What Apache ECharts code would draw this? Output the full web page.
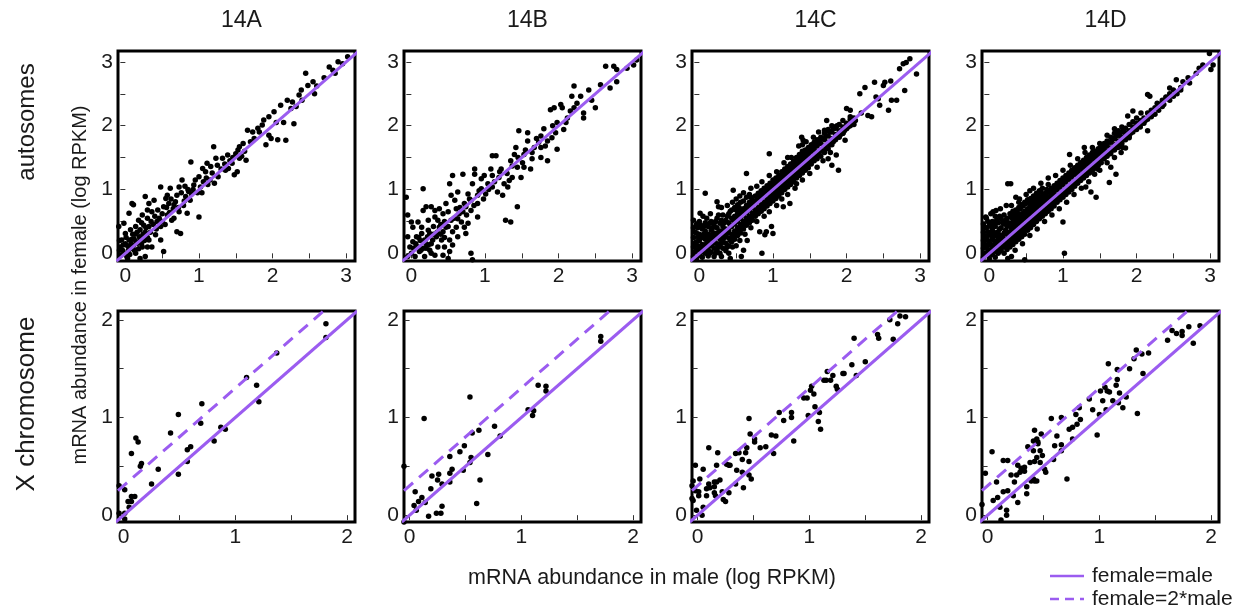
<!DOCTYPE html>
<html><head><meta charset="utf-8">
<script src="https://cdn.jsdelivr.net/npm/echarts@6/dist/echarts.min.js"></script>
<style>html,body{margin:0;padding:0;background:#fff}#c{width:1244px;height:615px}</style>
</head><body><div id="c"></div>
<script>
// ---------- data ----------
const panels = ['14A','14B','14C','14D'];
const rowLabels = ['autosomes','X chromosome'];
const xTitle = 'mRNA abundance in male (log RPKM)';
const yTitle = 'mRNA abundance in female (log RPKM)';
const legendNames = ['female=male','female=2*male'];
const autoLabels = [0,1,2,3];
const autoTicks = [0,0.5,1,1.5,2,2.5,3];
const xLabels = [0,1,2];
const xTicks = [0,0.5,1,1.5,2];
const autoRange = [-0.1,3.12,-0.12,3.17];
const xRange = [-0.05,2.07,-0.07,2.09];
const doubleOffset = 0.301; // log10(2)

const auto14A = [[3.02,3.08],[2.95,2.97],[2.89,3.0],[2.82,2.87],[2.77,2.92],[2.45,2.82],[2.55,2.69],[2.48,2.63],[2.39,2.56],[2.57,2.5],[2.36,2.48],[2.27,2.37],[2.2,2.4],[2.11,2.32],[2.32,2.3],[2.29,2.03],[2.18,1.77],[2.07,1.78],[2.02,2.22],[1.95,2.14],[1.88,2.09],[1.86,2.01],[1.8,1.96],[1.82,1.9],[1.73,1.9],[1.66,1.93],[1.95,1.85],[1.91,1.7],[1.98,1.8],[1.55,1.67],[1.6,1.72],[1.5,1.56],[1.55,1.49],[1.64,1.46],[1.45,1.41],[1.52,1.28],[1.48,1.23],[1.36,1.3],[1.39,1.54],[1.32,1.49],[1.2,1.67],[1.23,1.49],[1.16,1.36],[1.11,1.41],[1.09,1.28],[1.05,1.33],[1.0,1.2],[0.95,1.15],[1.02,1.04],[0.93,1.07],[1.0,0.57],[0.89,1.43],[0.86,0.97],[0.82,0.89],[0.77,1.15],[0.73,1.04],[0.7,0.91],[0.68,0.81],[0.61,1.02],[0.57,0.91],[0.55,0.86],[0.48,1.04],[0.52,0.73],[0.59,0.78],[0.73,0.65],[0.84,0.63],[0.75,0.31],[0.7,0.34],[0.66,0.55],[0.57,0.6],[0.48,0.42],[0.43,0.5],[0.36,0.65],[0.39,0.83],[0.32,0.78],[0.27,0.89],[0.3,0.68],[0.23,0.6],[0.18,0.52],[0.11,0.76],[0.09,0.78],[0.05,0.63],[-0.02,0.47],[-0.09,0.42],[0.41,0.29],[0.48,0.21],[0.52,0.03],[0.36,0.1],[0.32,0.21],[0.27,-0.05],[0.2,-0.08],[0.14,0],[0.09,0.08],[0.05,0.21],[0,0.31],[-0.05,0.21],[-0.07,0.1],[-0.02,0],[0.02,-0.05],[0.07,0.37],[0.14,0.42],[0.2,0.37],[0.25,0.44],[0.32,0.42],
[2.6,2.62],[2.7,2.75],[2.85,2.82],[2.4,2.4],[2.25,2.27],[2.15,2.05],[2.05,2.05],[1.75,1.8],[1.7,1.75],[1.62,1.6],[1.58,1.52],[1.42,1.45],[1.3,1.32],[1.26,1.2],[1.15,1.15],[1.12,1.08],[1.06,1.12],[0.98,0.95],[0.9,0.93],[0.85,1.0],[0.8,0.82],[0.76,0.95],[0.65,0.7],[0.62,0.85],[0.6,0.64],[0.5,0.62],[0.46,0.55],[0.44,0.68],[0.4,0.58],[0.35,0.5],[0.3,0.55],[0.28,0.4],[0.24,0.3],[0.22,0.48],[0.19,0.26],[0.16,0.33],[0.12,0.22],[0.1,0.3],[0.08,0.15],[0.04,0.05],[0.03,0.12],[0.0,0.15],[-0.04,0.05],[-0.06,-0.03],[0.06,-0.02],[0.11,0.12],[0.15,0.18],[0.18,0.07],[0.22,0.15],[0.26,0.2],[0.3,0.1],[0.34,0.33],[0.38,0.45],[0.42,0.38],[0.5,0.5],[0.54,0.45],[0.56,0.72],[0.63,0.52],[0.66,0.76],[0.72,0.72],[0.79,0.75],[0.81,1.05],[0.88,0.83],[0.92,1.0],[1.04,0.95],[1.1,1.18],[1.18,1.26],[1.21,1.1],[1.25,1.38],[1.35,1.4],[1.4,1.33],[1.46,1.5],[1.53,1.62],
[-0.08,0.05],[-0.08,0.2],[-0.03,0.13],[0.01,0.25],[0.03,-0.08],[0.06,0.1],[0.09,0.22],[0.12,0.05],[0.13,0.3],[0.17,0.16],[0.2,0.24],[0.23,0.1],[0.27,0.33],[0.3,0.25]];

const auto14B = [[3.06,3.03],[3.02,2.95],[2.93,2.9],[2.79,2.88],[2.64,2.93],[2.75,2.93],[2.79,2.69],[2.7,2.59],[2.57,2.64],[2.5,2.28],[2.41,2.56],[2.3,2.46],[2.21,2.62],[2.18,2.46],[2.34,2.2],[2.34,2.12],[2.21,2.28],[2.16,2.23],[2.12,2.12],[2.05,2.28],[2.03,2.33],[1.94,2.28],[1.89,2.25],[1.98,2.05],[2.07,1.94],[1.96,1.89],[1.98,1.63],[1.91,1.81],[1.85,1.76],[1.85,1.45],[1.76,1.84],[1.73,1.74],[1.76,1.66],[1.67,1.66],[1.64,1.58],[1.58,1.76],[1.58,1.89],[1.46,1.92],[1.53,1.55],[1.42,1.66],[1.4,1.55],[1.51,1.42],[1.44,1.35],[1.37,1.37],[1.44,0.73],[1.35,0.49],[1.28,0.52],[1.33,1.14],[1.26,1.09],[1.22,1.32],[1.19,1.19],[1.15,1.53],[1.1,1.53],[1.08,1.32],[1.1,1.22],[1.04,1.09],[0.99,1.22],[0.95,1.17],[0.92,0.98],[0.86,1.32],[0.86,1.24],[0.83,1.09],[0.77,0.93],[0.81,0.83],[0.74,0.73],[0.7,1.24],[0.56,1.22],[0.63,0.96],[0.59,0.83],[0.54,0.91],[0.52,1.09],[0.47,0.78],[0.5,0.65],[0.65,0.62],[0.68,0.49],[0.72,0.41],[0.61,0.41],[0.56,0.34],[0.52,0.21],[0.45,0.1],[0.5,-0.08],[0.81,0],[0.83,-0.1],[0.38,0.41],[0.36,0.52],[0.32,0.67],[0.27,0.73],[0.2,0.73],[0.16,1.01],[0.16,0.67],[0.09,0.49],[0,0.49],[-0.07,0.88],[-0.05,0.6],[0.02,0.41],[0.14,0.31],[0.23,0.36],[0.29,0.21],[0.36,0.1],[0.27,0],[0.18,-0.05],[0.11,0.03],[0.05,-0.05],[-0.02,0.1],[-0.05,0.26],[-0.05,-0.05],[0.02,0.18],[0.07,0.26],[0.18,0.21],[0.25,0.31],[0.34,0.26],[0.43,0.34],[0.41,0.21],[0.47,0.41],[0.54,0.52],[0.63,0.54],[0.7,0.65],[0.72,0.78],[0.79,0.85],[0.9,0.91],[0.95,1.01],[0.9,0.78],[0.81,0.67],[0.61,0.7],[0.43,0.62],[0.38,0.7],[0.32,0.57],[0.23,0.52],[0.14,0.41],[0.09,0.1],[0.16,0.08],[0.23,0.13],[0.32,-0.03],[0.43,-0.03],[0.52,0.03],[0.56,0.13],[0.63,0.26],[0.74,0.31],[0.77,0.47],[0.9,0.57],[1.01,0.93],[1.1,1.04],[1.17,0.96],[1.24,0.91],[1.31,1.04],[1.37,1.19],[1.49,1.19],[1.53,1.35],[1.62,1.32],[1.64,1.48],[1.76,1.5],[1.82,1.68],
[0.12,0.2],[0.2,0.15],[0.25,0.05],[0.3,0.3],[0.4,0.45],[0.45,0.5],[0.5,0.42],[0.58,0.55],[0.66,0.72],[0.75,0.6],[0.85,0.75],[0.98,0.85],[1.05,1.0],[1.13,1.12],[1.2,1.28],[1.3,1.25],[1.35,1.45],[1.45,1.5],[1.55,1.62],[1.7,1.8],[1.8,1.95],[1.92,2.0],[2.1,2.05],[2.25,2.35],[2.45,2.4],
[0.0,0.0],[0.03,0.08],[0.06,0.15],[0.1,0.25],[0.13,0.05],[0.2,0.08],[0.22,0.26],[0.27,0.15],[0.3,0.42],[0.35,0.33],[0.4,0.3],[0.45,0.25]];

const auto14C = [[2.86,3.05],[2.81,2.99],[2.77,2.97],[2.72,2.89],[2.95,2.81],[2.79,2.55],[2.68,2.4],[2.61,2.4],[2.57,2.24],[2.52,2.68],[2.5,2.63],[2.38,2.68],[2.43,2.42],[2.45,2.32],[2.34,2.14],[2.25,2.6],[2.18,2.5],[2.29,2.16],[2.05,2.24],[2.0,2.27],[2.05,2.14],[1.89,1.3],[1.8,1.38],[1.86,1.54],[1.75,1.48],[1.7,1.93],[1.73,2.08],[1.84,1.98],[1.98,1.77],[1.95,1.88],[1.39,1.82],[1.41,1.77],[0.95,1.56],[0.64,1.25],[0.46,0.99],[0.85,0],[0.89,0.29],[0.91,0.34],[0.98,0.42],[1.0,0.31],[0.82,0.34],[0.57,-0.05],[0.42,-0.08],[0.6,0.05],[0.08,0.94],[0.01,0.63],[0.24,0.81],[0.26,0.73],[-0.08,0.52],[1.23,0.78],[1.14,0.73],[1.32,1.09],[2.2,2.2],[2.12,2.08],[2.4,2.45],[2.6,2.7],
[-0.08,-0.05],[-0.08,0.1],[-0.08,0.25],[-0.08,0.4],[-0.04,-0.08],[-0.04,0.05],[-0.04,0.18],[-0.04,0.32],[-0.04,0.45],[0,-0.03],[0,0.08],[0,0.2],[0,0.3],[0,0.5],[0.04,-0.06],[0.04,0.02],[0.04,0.14],[0.04,0.26],[0.04,0.38],[0.08,0],[0.08,0.1],[0.08,0.22],[0.08,0.35],[0.08,0.48],[0.12,-0.04],[0.12,0.06],[0.12,0.17],[0.12,0.3],[0.12,0.42],[0.16,0.02],[0.16,0.12],[0.16,0.25],[0.16,0.36],[0.16,0.5],[0.2,-0.05],[0.2,0.08],[0.2,0.2],[0.2,0.32],[0.2,0.44],[0.24,0.05],[0.24,0.15],[0.24,0.28],[0.24,0.4],[0.24,0.55],[0.28,0],[0.28,0.12],[0.28,0.22],[0.28,0.35],[0.28,0.47],[0.32,0.08],[0.32,0.2],[0.32,0.3],[0.32,0.42],[0.32,0.6],[0.36,0.04],[0.36,0.16],[0.36,0.27],[0.36,0.38],[0.36,0.52],[0.4,0.12],[0.4,0.24],[0.4,0.36],[0.4,0.48],[0.4,0.62],[0.44,0.18],[0.44,0.3],[0.44,0.42],[0.44,0.55],[0.44,0.68],[0.48,0.22],[0.48,0.35],[0.48,0.46],[0.48,0.58],[0.48,0.72],[0.52,0.28],[0.52,0.4],[0.52,0.5],[0.52,0.62],[0.52,0.76],[0.56,0.32],[0.56,0.45],[0.56,0.55],[0.56,0.66],[0.56,0.8],[0.6,0.38],[0.6,0.5],[0.6,0.6],[0.6,0.7],[0.6,0.82],[0.64,0.44],[0.64,0.55],[0.64,0.64],[0.64,0.75],[0.64,0.88],[0.68,0.48],[0.68,0.58],[0.68,0.68],[0.68,0.8],[0.68,0.92],[0.72,0.52],[0.72,0.63],[0.72,0.72],[0.72,0.83],[0.76,0.58],[0.76,0.68],[0.76,0.78],[0.76,0.9],[0.8,0.62],[0.8,0.72],[0.8,0.82],[0.8,0.94],[0.84,0.66],[0.84,0.76],[0.84,0.86],[0.84,0.98],[0.88,0.7],[0.88,0.8],[0.88,0.9],[0.88,1.02],[0.92,0.74],[0.92,0.85],[0.92,0.95],[0.92,1.06],[0.96,0.78],[0.96,0.9],[0.96,1],[0.96,1.1],[1,0.82],[1,0.94],[1,1.04],[1,1.15],[1.04,0.86],[1.04,0.98],[1.04,1.08],[1.04,1.18],[1.08,0.9],[1.08,1.02],[1.08,1.12],[1.08,1.22],[1.12,0.95],[1.12,1.06],[1.12,1.16],[1.12,1.28],[1.16,1],[1.16,1.1],[1.16,1.2],[1.16,1.32],[1.2,1.04],[1.2,1.15],[1.2,1.25],[1.2,1.36],[1.24,1.08],[1.24,1.2],[1.24,1.3],[1.24,1.4],[1.28,1.12],[1.28,1.24],[1.28,1.34],[1.28,1.44],[1.32,1.18],[1.32,1.28],[1.32,1.38],[1.32,1.5],[1.36,1.22],[1.36,1.32],[1.36,1.42],[1.36,1.55],[1.4,1.26],[1.4,1.36],[1.4,1.46],[1.4,1.6],[1.4,1.7],[1.44,1.3],[1.44,1.4],[1.44,1.5],[1.44,1.62],[1.48,1.34],[1.48,1.45],[1.48,1.55],[1.48,1.66],[1.52,1.4],[1.52,1.5],[1.52,1.6],[1.52,1.7],[1.56,1.45],[1.56,1.54],[1.56,1.63],[1.56,1.74],[1.6,1.48],[1.6,1.58],[1.6,1.68],[1.6,1.78],[1.65,1.52],[1.65,1.62],[1.65,1.72],[1.65,1.82],[1.7,1.58],[1.7,1.68],[1.7,1.78],[1.7,1.88],[1.75,1.64],[1.75,1.74],[1.75,1.84],[1.75,1.94],[1.8,1.7],[1.8,1.8],[1.8,1.9],[1.8,2],[1.85,1.78],[1.85,1.86],[1.85,1.96],[1.9,1.82],[1.9,1.92],[1.9,2.02],[1.95,1.88],[1.95,1.98],[1.95,2.08],[2,1.95],[2,2.04],[2.05,2],[2.05,2.1],[2.1,2.02],[2.1,2.12],
[-0.06,0.02],[-0.06,0.16],[-0.06,0.33],[-0.02,0.12],[-0.02,0.26],[-0.02,0.4],[0.02,0.04],[0.02,0.24],[0.02,0.44],[0.06,0.07],[0.06,0.3],[0.06,0.42],[0.1,0.16],[0.1,0.28],[0.1,0.55],[0.14,0.0],[0.14,0.23],[0.14,0.47],[0.18,0.15],[0.18,0.3],[0.18,0.4],[0.22,0.0],[0.22,0.25],[0.22,0.5],[0.26,0.1],[0.26,0.33],[0.26,0.6],[0.3,0.16],[0.3,0.28],[0.3,0.52],[0.34,0.25],[0.34,0.36],[0.34,0.48],[0.38,0.1],[0.38,0.32],[0.38,0.58],[0.42,0.2],[0.42,0.44],[0.42,0.66],[0.46,0.26],[0.46,0.52],[0.5,0.32],[0.5,0.56],[0.5,0.68],[0.54,0.36],[0.54,0.58],[0.54,0.72],[0.58,0.42],[0.58,0.65],[0.62,0.48],[0.62,0.68],[0.66,0.52],[0.66,0.74],[0.7,0.56],[0.7,0.76],[0.7,0.88],[0.74,0.62],[0.74,0.8],[0.78,0.64],[0.78,0.84],[0.82,0.68],[0.82,0.9],[0.86,0.74],[0.86,0.95],[0.9,0.78],[0.9,0.98],[0.94,0.82],[0.94,1.02],[0.98,0.86],[0.98,1.08],[1.02,0.9],[1.02,1.12],[1.06,0.94],[1.06,1.16],[1.1,0.98],[1.1,1.2],[1.14,1.02],[1.14,1.24],[1.18,1.06],[1.18,1.28],[1.22,1.12],[1.22,1.34],[1.26,1.16],[1.26,1.38],[1.3,1.2],[1.3,1.42],[1.34,1.26],[1.34,1.48],[1.38,1.28],[1.38,1.52],[1.42,1.34],[1.42,1.56],[1.46,1.38],[1.46,1.6],[1.5,1.44],[1.5,1.64],[1.54,1.48],[1.54,1.68],[1.58,1.52],[1.58,1.72],[1.62,1.55],[1.62,1.76],[1.67,1.6],[1.67,1.8],[1.72,1.64],[1.72,1.84],[1.77,1.7],[1.77,1.9],[1.82,1.75],[1.82,1.95],[1.87,1.82],[1.87,2.0],[1.92,1.86],[1.97,1.92],[2.02,1.98],[2.07,2.06],
[0.3,0.72],[0.38,0.75],[0.45,0.8],[0.55,0.9],[0.6,0.95],[0.7,1.02],[0.78,1.05],[0.85,1.12],[0.95,1.22],[1.05,1.28],[1.15,1.42],[1.25,1.5],[1.35,1.68],[1.45,1.75],[1.55,1.82],[1.62,1.9],[1.2,1.5],[0.5,0.85],[0.15,0.62],[0.05,0.58],
[0.3,-0.05],[0.45,0.1],[0.55,0.2],[0.62,0.3],[0.7,0.4],[0.78,0.5],[0.88,0.58],[0.95,0.65],[1.05,0.75],[1.12,0.85],[1.2,0.92],[1.3,1.02],[1.4,1.15],[1.5,1.25],[1.6,1.35],[1.68,1.45],[1.78,1.58],[0.4,0.0],[0.5,0.12],[0.65,0.2]];

const auto14D = [[2.99,3.13],[3.04,2.95],[3.01,2.88],[2.9,2.95],[2.81,2.82],[2.72,2.67],[2.63,2.69],[2.54,2.72],[2.45,2.59],[2.37,2.33],[2.4,2.44],[2.15,2.49],[2.18,2.46],[2.15,1.92],[2.06,2.2],[1.95,2.23],[1.88,2.15],[1.9,1.81],[1.81,1.66],[1.79,1.58],[1.72,1.24],[1.63,1.11],[1.65,1.35],[1.45,0.88],[1.38,0.96],[1.31,1.04],[1.43,1.24],[1.47,1.32],[1.29,1.66],[1.09,1.55],[1.0,0.49],[1.02,0],[0.25,1.09],[0.29,1.09],[0.36,0.88],[0.41,0.85],[0.48,-0.1],[0.05,0.65],[0.09,0.67],[0.23,0.75],[-0.05,0.57],[2.85,2.9],[2.7,2.75],[2.28,2.35],[2.6,2.6],
[-0.08,-0.06],[-0.08,0.08],[-0.08,0.2],[-0.08,0.33],[-0.08,0.46],[-0.04,0],[-0.04,0.12],[-0.04,0.26],[-0.04,0.4],[-0.04,0.55],[0,-0.08],[0,0.05],[0,0.16],[0,0.3],[0,0.44],[0.04,-0.02],[0.04,0.1],[0.04,0.22],[0.04,0.36],[0.04,0.5],[0.08,-0.06],[0.08,0.04],[0.08,0.15],[0.08,0.28],[0.08,0.42],[0.08,0.58],[0.12,0],[0.12,0.12],[0.12,0.24],[0.12,0.34],[0.12,0.48],[0.16,0.04],[0.16,0.16],[0.16,0.28],[0.16,0.4],[0.16,0.54],[0.2,0],[0.2,0.1],[0.2,0.22],[0.2,0.32],[0.2,0.46],[0.2,0.6],[0.24,0.06],[0.24,0.18],[0.24,0.3],[0.24,0.42],[0.24,0.55],[0.28,0.1],[0.28,0.22],[0.28,0.34],[0.28,0.46],[0.28,0.62],[0.32,0.14],[0.32,0.26],[0.32,0.38],[0.32,0.5],[0.32,0.66],[0.36,0.18],[0.36,0.3],[0.36,0.42],[0.36,0.54],[0.36,0.68],[0.4,0.22],[0.4,0.34],[0.4,0.46],[0.4,0.58],[0.4,0.72],[0.44,0.26],[0.44,0.38],[0.44,0.5],[0.44,0.62],[0.44,0.76],[0.48,0.3],[0.48,0.42],[0.48,0.54],[0.48,0.66],[0.48,0.8],[0.52,0.36],[0.52,0.47],[0.52,0.58],[0.52,0.7],[0.52,0.84],[0.56,0.4],[0.56,0.5],[0.56,0.62],[0.56,0.74],[0.56,0.86],[0.6,0.45],[0.6,0.55],[0.6,0.66],[0.6,0.78],[0.6,0.9],[0.64,0.5],[0.64,0.6],[0.64,0.7],[0.64,0.82],[0.64,0.94],[0.68,0.54],[0.68,0.64],[0.68,0.75],[0.68,0.86],[0.68,0.98],[0.72,0.58],[0.72,0.68],[0.72,0.78],[0.72,0.9],[0.72,1.02],[0.76,0.62],[0.76,0.72],[0.76,0.82],[0.76,0.94],[0.8,0.66],[0.8,0.76],[0.8,0.86],[0.8,0.98],[0.8,1.08],[0.84,0.7],[0.84,0.8],[0.84,0.9],[0.84,1.02],[0.88,0.74],[0.88,0.84],[0.88,0.94],[0.88,1.06],[0.92,0.8],[0.92,0.9],[0.92,1],[0.92,1.1],[0.96,0.84],[0.96,0.94],[0.96,1.04],[0.96,1.14],[1,0.88],[1,0.98],[1,1.08],[1,1.18],[1.04,0.92],[1.04,1.02],[1.04,1.12],[1.04,1.22],[1.08,0.96],[1.08,1.06],[1.08,1.16],[1.08,1.26],[1.12,1],[1.12,1.1],[1.12,1.2],[1.12,1.3],[1.16,1.05],[1.16,1.14],[1.16,1.24],[1.16,1.34],[1.2,1.1],[1.2,1.2],[1.2,1.28],[1.2,1.38],[1.24,1.14],[1.24,1.24],[1.24,1.32],[1.24,1.42],[1.28,1.18],[1.28,1.28],[1.28,1.36],[1.28,1.46],[1.32,1.22],[1.32,1.32],[1.32,1.4],[1.32,1.5],[1.36,1.26],[1.36,1.36],[1.36,1.44],[1.36,1.54],[1.4,1.3],[1.4,1.4],[1.4,1.48],[1.4,1.58],[1.44,1.34],[1.44,1.44],[1.44,1.52],[1.44,1.6],[1.48,1.38],[1.48,1.48],[1.48,1.56],[1.48,1.64],[1.52,1.42],[1.52,1.52],[1.52,1.6],[1.52,1.68],[1.56,1.48],[1.56,1.56],[1.56,1.64],[1.56,1.72],[1.6,1.52],[1.6,1.6],[1.6,1.68],[1.6,1.76],[1.65,1.56],[1.65,1.65],[1.65,1.74],[1.65,1.82],[1.7,1.62],[1.7,1.7],[1.7,1.8],[1.7,1.88],[1.75,1.66],[1.75,1.76],[1.75,1.85],[1.75,1.92],[1.8,1.72],[1.8,1.82],[1.8,1.9],[1.8,1.98],[1.85,1.78],[1.85,1.88],[1.85,1.96],[1.9,1.84],[1.9,1.92],[1.9,2.02],[1.95,1.9],[1.95,1.98],[1.95,2.06],[2,1.94],[2,2.04],[2,2.12],[2.05,1.98],[2.05,2.08],[2.1,2.04],[2.1,2.12],[2.15,2.1],[2.15,2.2],[2.2,2.14],[2.2,2.24],[2.25,2.18],[2.25,2.28],[2.3,2.24],[2.3,2.34],[2.35,2.3],[2.35,2.4],[2.45,2.4],[2.45,2.5],[2.5,2.46],[2.5,2.56],[2.55,2.5],[2.6,2.56],
[-0.06,0.0],[-0.06,0.14],[-0.06,0.27],[-0.06,0.4],[-0.02,0.06],[-0.02,0.2],[-0.02,0.34],[-0.02,0.5],[0.02,0.0],[0.02,0.13],[0.02,0.28],[0.02,0.42],[0.06,0.08],[0.06,0.2],[0.06,0.33],[0.06,0.48],[0.1,0.02],[0.1,0.18],[0.1,0.3],[0.1,0.52],[0.14,0.06],[0.14,0.2],[0.14,0.38],[0.14,0.58],[0.18,0.1],[0.18,0.26],[0.18,0.48],[0.22,0.14],[0.22,0.36],[0.22,0.52],[0.26,0.12],[0.26,0.26],[0.26,0.48],[0.3,0.16],[0.3,0.4],[0.3,0.56],[0.34,0.2],[0.34,0.44],[0.34,0.6],[0.38,0.24],[0.38,0.48],[0.38,0.64],[0.42,0.28],[0.42,0.52],[0.42,0.7],[0.46,0.34],[0.46,0.58],[0.46,0.74],[0.5,0.38],[0.5,0.62],[0.5,0.78],[0.54,0.42],[0.54,0.66],[0.54,0.8],[0.58,0.48],[0.58,0.7],[0.58,0.84],[0.62,0.52],[0.62,0.74],[0.62,0.88],[0.66,0.56],[0.66,0.8],[0.66,0.92],[0.7,0.6],[0.7,0.84],[0.7,0.96],[0.74,0.64],[0.74,0.88],[0.78,0.68],[0.78,0.9],[0.78,1.0],[0.82,0.72],[0.82,0.96],[0.86,0.78],[0.86,1.0],[0.9,0.84],[0.9,1.04],[0.94,0.88],[0.94,1.08],[0.98,0.92],[0.98,1.12],[1.02,0.96],[1.02,1.16],[1.06,1.0],[1.06,1.2],[1.1,1.05],[1.1,1.24],[1.14,1.08],[1.14,1.28],[1.18,1.14],[1.18,1.32],[1.22,1.18],[1.22,1.36],[1.26,1.2],[1.26,1.4],[1.3,1.26],[1.3,1.44],[1.34,1.3],[1.34,1.48],[1.38,1.32],[1.38,1.52],[1.42,1.38],[1.42,1.55],[1.46,1.42],[1.46,1.6],[1.5,1.46],[1.5,1.64],[1.54,1.5],[1.54,1.66],[1.58,1.54],[1.58,1.7],[1.62,1.58],[1.62,1.74],[1.67,1.62],[1.67,1.78],[1.72,1.66],[1.72,1.84],[1.77,1.72],[1.77,1.88],[1.82,1.78],[1.82,1.94],[1.87,1.84],[1.92,1.88],[1.97,1.94],[2.02,2.0],[2.07,2.04],[2.12,2.08],[2.17,2.16],[2.22,2.2],[2.4,2.45],
[0.3,0.75],[0.4,0.8],[0.5,0.92],[0.6,1.02],[0.7,1.1],[0.8,1.18],[0.9,1.22],[1.0,1.3],[1.1,1.38],[1.2,1.48],[1.3,1.58],[1.4,1.66],[1.5,1.72],[1.6,1.85],[1.7,1.95],[0.15,0.7],[0.02,0.62],[0.55,0.98],
[0.35,0.05],[0.45,0.15],[0.55,0.28],[0.65,0.38],[0.75,0.5],[0.85,0.6],[0.95,0.7],[1.05,0.8],[1.15,0.92],[1.25,1.02],[1.35,1.12],[1.5,1.3],[1.6,1.42],[1.7,1.5],[1.85,1.65],[0.3,-0.05],[0.25,-0.08]];

const chrX14A = [[1.81,1.96],[1.81,1.82],[1.37,1.66],[1.1,1.41],[1.19,1.33],[1.21,1.16],[0.7,1.14],[0.49,1.03],[0.69,0.94],[0.42,0.84],[0.87,0.9],[0.91,0.88],[0.81,0.76],[0.6,0.7],[0.57,0.67],[0.57,0.55],[0.49,0.42],[0.31,0.47],[0.11,0.79],[0.13,0.75],[0.07,0.63],[0.16,0.53],[0.15,0.5],[0.25,0.32],[-0.04,0.3],[0.01,0.26],[0.07,0.19],[0.1,0.19],[0.07,0.14],[0.04,0.14],[0.05,0.08],[-0.04,0.02],[0.01,0.02],[0.01,-0.04]];
const chrX14B = [[1.71,1.83],[1.71,1.78],[1.15,1.33],[1.22,1.32],[1.22,1.27],[1.06,1.08],[1.11,1.07],[1.1,1.02],[0.54,1.21],[0.13,0.99],[0.76,0.91],[0.62,0.87],[0.56,0.84],[0.81,0.81],[0.49,0.71],[0.45,0.65],[0.7,0.62],[0.36,0.6],[0.55,0.59],[0.38,0.47],[0.36,0.43],[0.48,0.46],[0.54,0.54],[-0.05,0.5],[0.26,0.42],[0.2,0.4],[0.25,0.36],[0.63,0.36],[0.36,0.34],[0.29,0.32],[0.19,0.27],[0.05,0.24],[0.11,0.18],[0.14,0.13],[0.08,0.14],[0.04,0.1],[0.06,0.05],[0.29,0.09],[0.6,0.12],[0.24,0.02],[0.28,0.02],[0.17,-0.01],[-0.05,-0.07]];
const chrX14C = [[1.81,2.04],[1.86,2.03],[1.72,2.0],[1.79,1.96],[1.75,1.8],[1.4,1.81],[1.61,1.85],[1.62,1.81],[1.5,1.57],[1.38,1.54],[1.42,1.43],[1.3,1.45],[1.31,1.45],[1.24,1.32],[1.25,1.29],[1.16,1.47],[1.15,1.38],[1.19,1.38],[1.13,1.38],[1.21,1.43],[1.02,1.32],[1.04,1.24],[1.01,1.28],[0.98,1.2],[0.95,1.2],[0.99,1.02],[1.05,1.11],[1.09,1.05],[1.08,0.96],[1.1,0.88],[0.73,1.05],[0.77,0.97],[0.84,1.05],[0.84,1.0],[0.86,0.76],[0.66,0.82],[0.7,0.81],[0.68,0.63],[0.46,0.99],[0.47,0.83],[0.51,0.78],[0.51,0.75],[0.56,0.69],[0.61,0.7],[0.44,0.69],[0.43,0.64],[0.4,0.57],[0.46,0.55],[0.4,0.44],[0.46,0.41],[0.48,0.37],[0.35,0.46],[0.34,0.63],[0.37,0.64],[0.41,0.28],[0.34,0.32],[0.29,0.51],[0.26,0.52],[0.28,0.51],[0.23,0.16],[0.25,0.14],[0.28,0.23],[0.2,0.36],[0.17,0.34],[0.17,0.51],[0.18,0.64],[0.1,0.69],[0.15,0.23],[0.15,0.29],[0.22,0.24],[0.08,0.27],[0.1,0.32],[0.05,0.47],[0.02,0.37],[-0.02,0.51],[-0.04,0.35],[-0.05,0.3],[-0.02,0.25],[-0.05,0.17],[-0.04,0.15],[0.01,0.2],[0.08,0.2],[0.01,0.24],[0.05,0.08],[-0.01,0.05],[0.04,0.0],[0.15,0.34],[0.16,0.2],[0.11,0.28]];
const chrX14D = [[1.9,1.94],[1.8,1.93],[1.84,1.76],[1.74,1.88],[1.74,1.84],[1.69,1.86],[1.65,1.89],[1.61,1.79],[1.44,1.66],[1.38,1.65],[1.33,1.69],[1.31,1.6],[1.27,1.5],[1.39,1.45],[1.24,1.21],[1.16,1.39],[1.15,1.33],[1.16,1.49],[1.08,1.55],[1.18,1.25],[1.17,1.15],[1.21,1.1],[1.34,1.04],[1.05,1.31],[1.07,1.27],[1.09,1.26],[1.12,1.17],[1.06,1.08],[1.01,1.27],[1.03,1.17],[1.0,1.03],[0.94,1.08],[0.98,0.82],[0.91,1.19],[0.82,1.1],[0.79,1.03],[0.83,0.98],[0.8,0.93],[0.76,0.9],[0.73,0.88],[0.76,0.78],[0.66,1.0],[0.57,0.99],[0.62,0.81],[0.6,0.71],[0.66,0.72],[0.59,0.57],[0.71,0.37],[0.66,0.66],[0.48,0.83],[0.42,0.87],[0.44,0.78],[0.45,0.75],[0.41,0.76],[0.45,0.73],[0.47,0.66],[0.49,0.61],[0.47,0.54],[0.51,0.47],[0.52,0.44],[0.44,0.59],[0.42,0.55],[0.36,0.7],[0.41,0.66],[0.38,0.54],[0.33,0.49],[0.33,0.45],[0.3,0.48],[0.29,0.44],[0.27,0.51],[0.35,0.29],[0.35,0.22],[0.39,0.35],[0.42,0.35],[0.44,0.35],[0.41,0.37],[0.26,0.41],[0.24,0.34],[0.21,0.41],[0.18,0.56],[0.14,0.56],[0.04,0.65],[-0.02,0.43],[0.08,0.34],[0.14,0.24],[0.18,0.25],[0.23,0.2],[0.27,0.13],[0.09,0.18],[0.05,0.15],[0.11,0.08],[0.17,0.05],[0.17,0.0],[0.12,-0.05],[-0.06,0.2],[-0.05,0.11],[-0.06,0.03]];

const autoData = [auto14A, auto14B, auto14C, auto14D];
const chrXData = [chrX14A, chrX14B, chrX14C, chrX14D];

// ---------- layout ----------
const PURPLE = '#9b5cf0';
const FONT = '"Liberation Sans", Arial, sans-serif';
const colLeft = [118, 404, 692, 982];
const W = 237;
const rowTop = [51, 311];
const H = 210;

const grids = [], xAxes = [], yAxes = [], series = [];
function mkAxis(gi, min, max, labels, ticks, isX) {
  return {
    type: 'value', gridIndex: gi, min: min, max: max,
    axisLine: {show: false}, splitLine: {show: false},
    axisTick: {show: true, inside: false, length: 5, lineStyle: {color: '#333', width: 1}, customValues: ticks},
    axisLabel: {show: true, customValues: labels, fontSize: 21, color: '#1a1a1a', fontFamily: FONT, margin: 5}
  };
}
for (let r = 0; r < 2; r++) {
  for (let c = 0; c < 4; c++) {
    const gi = r * 4 + c;
    const rng = r === 0 ? autoRange : xRange;
    const labels = r === 0 ? autoLabels : xLabels;
    const ticks = r === 0 ? autoTicks : xTicks;
    grids.push({left: colLeft[c], top: rowTop[r], width: W, height: H + (r === 1 ? 1 : 0),
      show: true, borderColor: '#000', borderWidth: 3, backgroundColor: 'rgba(0,0,0,0)'});
    xAxes.push(mkAxis(gi, rng[0], rng[1], labels, ticks, true));
    yAxes.push(mkAxis(gi, rng[2], rng[3], labels, ticks, false));
    series.push({type: 'scatter', xAxisIndex: gi, yAxisIndex: gi, symbolSize: 5.5,
      itemStyle: {color: '#000', opacity: 1}, data: r === 0 ? autoData[c] : chrXData[c], z: 2, silent: true});
    const lo = Math.min(rng[0], rng[2]), hi = Math.max(rng[1], rng[3]);
    series.push({type: 'line', xAxisIndex: gi, yAxisIndex: gi, showSymbol: false, symbol: 'none', clip: true,
      lineStyle: {color: PURPLE, width: 3}, data: [[lo, lo], [hi, hi]], z: 3, silent: true});
    if (r === 1) {
      series.push({type: 'line', xAxisIndex: gi, yAxisIndex: gi, showSymbol: false, symbol: 'none', clip: true,
        lineStyle: {color: PURPLE, width: 3, type: [12, 8]},
        data: [[rng[0], rng[0] + doubleOffset], [rng[1], rng[1] + doubleOffset]], z: 3, silent: true});
    }
  }
}

const titles = panels.map((p, i) => ({text: p, left: colLeft[i] + W / 2, top: 4, textAlign: 'center',
  textStyle: {fontSize: 23, fontWeight: 'normal', color: '#1a1a1a', fontFamily: FONT}}));

const graphics = [
  {type: 'text', x: 27, y: 122, rotation: Math.PI / 2, style: {text: rowLabels[0], font: '24px ' + FONT, fill: '#1a1a1a', textAlign: 'center', textVerticalAlign: 'middle'}},
  {type: 'text', x: 27, y: 404, rotation: Math.PI / 2, style: {text: rowLabels[1], font: '26px ' + FONT, fill: '#1a1a1a', textAlign: 'center', textVerticalAlign: 'middle'}},
  {type: 'text', x: 80, y: 285, rotation: Math.PI / 2, style: {text: yTitle, font: '20px ' + FONT, fill: '#1a1a1a', textAlign: 'center', textVerticalAlign: 'middle'}},
  {type: 'text', x: 652, y: 578, style: {text: xTitle, font: '21.5px ' + FONT, fill: '#1a1a1a', textAlign: 'center', textVerticalAlign: 'middle'}},
  {type: 'line', shape: {x1: 1050, y1: 576, x2: 1084, y2: 576}, style: {stroke: PURPLE, lineWidth: 2.5}},
  {type: 'line', shape: {x1: 1050, y1: 599, x2: 1084, y2: 599}, style: {stroke: PURPLE, lineWidth: 2.5, lineDash: [9, 6]}},
  {type: 'text', x: 1092, y: 576, style: {text: legendNames[0], font: '21px ' + FONT, fill: '#1a1a1a', textAlign: 'left', textVerticalAlign: 'middle'}},
  {type: 'text', x: 1092, y: 599, style: {text: legendNames[1], font: '21px ' + FONT, fill: '#1a1a1a', textAlign: 'left', textVerticalAlign: 'middle'}}
];

const chart = echarts.init(document.getElementById('c'), null, {renderer: 'canvas'});
chart.setOption({
  animation: false,
  backgroundColor: '#fff',
  title: titles,
  grid: grids, xAxis: xAxes, yAxis: yAxes, series: series,
  graphic: graphics
});
</script></body></html>
